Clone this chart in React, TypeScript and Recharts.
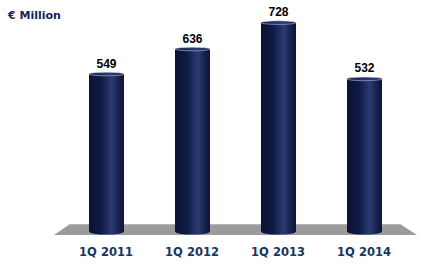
import { BarChart, Bar, XAxis, YAxis, LabelList, ReferenceArea } from "recharts";

const quarters = ["1Q 2011", "1Q 2012", "1Q 2013", "1Q 2014"];
const revenue = [549, 636, 728, 532];

const data = quarters.map((q, i) => ({ quarter: q, value: revenue[i] }));

// cylinder-ish bar: body with a horizontal gradient plus elliptical caps
const CylinderBar = (props: any) => {
  const { x, y, width, height } = props;
  const cx = x + width / 2;
  return (
    <g>
      <ellipse cx={cx} cy={y + height} rx={width / 2} ry={3} fill="url(#cylBody)" />
      <rect x={x} y={y} width={width} height={height} fill="url(#cylBody)" />
      <ellipse cx={cx} cy={y} rx={width / 2} ry={1.8} fill="url(#cylTop)" stroke="#d4d8e4" strokeWidth={0.5} />
    </g>
  );
};

const Floor = (props: any) => {
  const { x, y, width, height } = props;
  const pts = [
    [x + 7, y],
    [x + width - 7, y],
    [x + width + 10, y + height],
    [x - 9, y + height],
  ]
    .map((p) => p.join(","))
    .join(" ");
  return (
    <g>
      <polygon points={pts} fill="#9b9b9b" />
      <line x1={x + 7} y1={y + 0.5} x2={x + width - 7} y2={y + 0.5} stroke="#b8b8b8" strokeWidth={1} />
    </g>
  );
};

const QuarterTick = (props: any) => {
  const { x, payload } = props;
  return (
    <text
      x={x}
      y={255.5}
      textAnchor="middle"
      fontFamily="DejaVu Sans, Verdana, sans-serif"
      fontWeight="bold"
      fontSize={11.5}
      fill="#17375e"
    >
      {payload.value}
    </text>
  );
};

const ValueLabel = (props: any) => {
  const { x, y, width, value } = props;
  return (
    <text
      x={x + width / 2}
      y={y - 6.5}
      textAnchor="middle"
      fontFamily="Liberation Sans, Arial, sans-serif"
      fontWeight="bold"
      fontSize={12}
      fill="#000"
    >
      {value}
    </text>
  );
};

export default function App() {
  return (
    <div style={{ position: "absolute", left: 0, top: 0, width: 428, height: 267, background: "#fff" }}>
      <div
        style={{
          position: "absolute",
          left: 8,
          top: 9,
          fontFamily: "DejaVu Sans, Verdana, sans-serif",
          fontWeight: "bold",
          fontSize: 11,
          lineHeight: "14px",
          color: "#14245a",
          whiteSpace: "nowrap",
        }}
      >
        € Million
      </div>
      <BarChart
        width={428}
        height={267}
        data={data}
        margin={{ top: 2, right: 21, left: 63, bottom: 0 }}
        barSize={35}
      >
        <defs>
          <linearGradient id="cylBody" x1="0" y1="0" x2="1" y2="0">
            <stop offset="0" stopColor="#0a1234" />
            <stop offset="0.35" stopColor="#0f1a45" />
            <stop offset="0.65" stopColor="#2a3a72" />
            <stop offset="0.85" stopColor="#16214f" />
            <stop offset="1" stopColor="#0b1438" />
          </linearGradient>
          <linearGradient id="cylTop" x1="0" y1="0" x2="1" y2="0">
            <stop offset="0" stopColor="#141e4c" />
            <stop offset="0.6" stopColor="#2c3c74" />
            <stop offset="1" stopColor="#141e4c" />
          </linearGradient>
        </defs>
        <XAxis dataKey="quarter" axisLine={false} tickLine={false} height={24} tick={<QuarterTick />} interval={0} />
        <YAxis hide domain={[-40, 800]} />
        <ReferenceArea y1={-12} y2={26} shape={<Floor />} />
        <Bar dataKey="value" shape={<CylinderBar />} isAnimationActive={false}>
          <LabelList dataKey="value" content={<ValueLabel />} />
        </Bar>
      </BarChart>
    </div>
  );
}
